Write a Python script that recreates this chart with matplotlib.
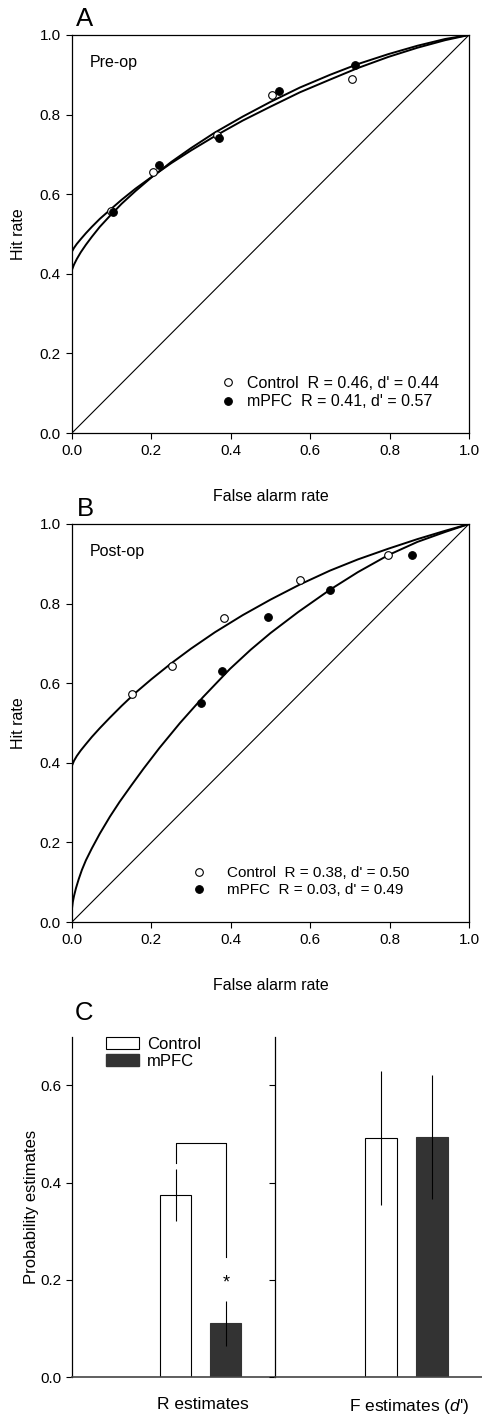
import matplotlib
matplotlib.use("Agg")
import matplotlib.pyplot as plt
from matplotlib.lines import Line2D
from matplotlib.patches import Patch

plt.rcParams['font.family'] = ['Liberation Sans', 'DejaVu Sans']
plt.rcParams['mathtext.fontset'] = 'custom'
plt.rcParams['mathtext.it'] = 'Liberation Sans:italic'
plt.rcParams['mathtext.rm'] = 'Liberation Sans'

# ROC data points (false alarm rate, hit rate)
pre_ctrl_fa = [0.098, 0.203, 0.365, 0.505, 0.706]
pre_ctrl_hit = [0.558, 0.657, 0.748, 0.849, 0.889]
pre_mpfc_fa = [0.104, 0.220, 0.370, 0.521, 0.714]
pre_mpfc_hit = [0.555, 0.674, 0.742, 0.860, 0.924]

post_ctrl_fa = [0.151, 0.251, 0.382, 0.574, 0.797]
post_ctrl_hit = [0.573, 0.643, 0.763, 0.859, 0.921]
post_mpfc_fa = [0.325, 0.377, 0.493, 0.650, 0.856]
post_mpfc_hit = [0.551, 0.631, 0.767, 0.835, 0.922]

# fitted ROC curves
curve_fa = [0, 0.005, 0.012, 0.022, 0.035, 0.05, 0.07, 0.095, 0.125, 0.16, 0.2, 0.25,
            0.3, 0.36, 0.43, 0.5, 0.574, 0.65, 0.72, 0.797, 0.87, 0.94, 1.0]
pre_ctrl_curve = [0.456, 0.465, 0.475, 0.487, 0.502, 0.518, 0.538, 0.560, 0.586, 0.614, 0.643, 0.678,
                  0.710, 0.746, 0.785, 0.820, 0.856, 0.888, 0.917, 0.945, 0.968, 0.987, 1.0]
pre_mpfc_curve = [0.410, 0.423, 0.437, 0.454, 0.473, 0.493, 0.518, 0.545, 0.576, 0.608, 0.642, 0.681,
                  0.716, 0.755, 0.795, 0.832, 0.868, 0.900, 0.927, 0.952, 0.973, 0.990, 1.0]
post_ctrl_curve = [0.393, 0.405, 0.417, 0.431, 0.447, 0.465, 0.487, 0.513, 0.543, 0.576, 0.610, 0.650,
                   0.687, 0.728, 0.771, 0.810, 0.848, 0.883, 0.911, 0.938, 0.962, 0.983, 1.0]

post_mpfc_curve_x = [0, 0.002, 0.005, 0.01, 0.017, 0.025, 0.035, 0.05, 0.07, 0.0957, 0.12, 0.15, 0.18,
                     0.22, 0.272, 0.33, 0.398, 0.45, 0.5, 0.57, 0.65, 0.72, 0.797, 0.87, 0.94, 1.0]
post_mpfc_curve_y = [0.034, 0.05, 0.065, 0.085, 0.108, 0.131, 0.155, 0.185, 0.222, 0.265, 0.302, 0.344, 0.385,
                     0.437, 0.50, 0.565, 0.636, 0.684, 0.726, 0.779, 0.835, 0.879, 0.922, 0.955, 0.98, 1.0]

pre_labels = ["Control  R = 0.46, d' = 0.44", "mPFC  R = 0.41, d' = 0.57"]
post_labels = ["Control  R = 0.38, d' = 0.50", "mPFC  R = 0.03, d' = 0.49"]

# bar chart data
bar_groups = ['R estimates', "F estimates ($\\mathit{d}$')"]
ctrl_means = [0.375, 0.492]
ctrl_err = [0.054, 0.137]
mpfc_means = [0.111, 0.494]
mpfc_err = [0.046, 0.128]

W, H = 482, 1414
fig = plt.figure(figsize=(W / 100, H / 100), dpi=100)


def ax_rect(x0, y0, x1, y1):
    return [x0 / W, 1 - y1 / H, (x1 - x0) / W, (y1 - y0) / H]


def roc_panel(rect, cfa, chit, mfa, mhit, ccx, ccy, mcx, mcy, title, labels, leg_anchor, textpad, legsize):
    ax = fig.add_axes(rect)
    ax.plot([0, 1], [0, 1], color='k', lw=0.8)
    ax.plot(ccx, ccy, color='k', lw=1.4)
    ax.plot(mcx, mcy, color='k', lw=1.4)
    ax.plot(cfa, chit, 'o', mfc='white', mec='k', mew=0.8, ms=5.5, zorder=3)
    ax.plot(mfa, mhit, 'o', mfc='k', mec='k', mew=0.8, ms=5.5, zorder=4)
    ax.set_xlim(0, 1)
    ax.set_ylim(0, 1)
    ticks = [0, 0.2, 0.4, 0.6, 0.8, 1.0]
    ax.set_xticks(ticks)
    ax.set_yticks(ticks)
    ax.set_xticklabels(['%.1f' % t for t in ticks], fontsize=11)
    ax.set_yticklabels(['%.1f' % t for t in ticks], fontsize=11)
    ax.tick_params(direction='out', length=4, width=0.8, pad=4)
    for s in ax.spines.values():
        s.set_linewidth(0.9)
    ax.set_xlabel('False alarm rate', fontsize=11.5, labelpad=22)
    ax.set_ylabel('Hit rate', fontsize=11.5, labelpad=10)
    ax.text(0.045, 0.93, title, fontsize=11.5, transform=ax.transAxes, va='center')
    handles = [Line2D([], [], ls='none', marker='o', mfc='white', mec='k', mew=0.8, ms=5.5),
               Line2D([], [], ls='none', marker='o', mfc='k', mec='k', mew=0.8, ms=5.5)]
    ax.legend(handles, labels, loc='lower left', bbox_to_anchor=leg_anchor, frameon=False,
              fontsize=legsize, handlelength=1.0, handletextpad=textpad, borderpad=0,
              borderaxespad=0, labelspacing=0.2)
    return ax


roc_panel(ax_rect(72, 35, 469, 433), pre_ctrl_fa, pre_ctrl_hit, pre_mpfc_fa, pre_mpfc_hit,
          curve_fa, pre_ctrl_curve, curve_fa, pre_mpfc_curve,
          'Pre-op', pre_labels, (0.372, 0.06), 0.7, 11.5)
roc_panel(ax_rect(72, 524, 469, 922), post_ctrl_fa, post_ctrl_hit, post_mpfc_fa, post_mpfc_hit,
          curve_fa, post_ctrl_curve, post_mpfc_curve_x, post_mpfc_curve_y,
          'Post-op', post_labels, (0.301, 0.063), 1.35, 11)

# panel C: two side-by-side axes sharing the y range
axl = fig.add_axes(ax_rect(72, 1036.7, 275.3, 1377.3))
axr = fig.add_axes(ax_rect(275.3, 1036.7, 482, 1377.3), sharey=axl)
pos_ctrl, pos_mpfc, bw = 0.51, 0.757, 0.153
for i, ax in enumerate([axl, axr]):
    ax.bar(pos_ctrl, ctrl_means[i], bw, color='white', edgecolor='k', lw=0.8, zorder=2)
    ax.bar(pos_mpfc, mpfc_means[i], bw, color='#333333', edgecolor='#333333', lw=0.8, zorder=2)
    ax.errorbar([pos_ctrl, pos_mpfc], [ctrl_means[i], mpfc_means[i]], yerr=[ctrl_err[i], mpfc_err[i]],
                fmt='none', ecolor='k', elinewidth=0.8, capsize=0, zorder=3)
    ax.set_xlim(0, 1)
    ax.set_ylim(0, 0.7)
    ax.spines['top'].set_visible(False)
    ax.spines['right'].set_visible(False)
    ax.spines['left'].set_linewidth(0.9)
    ax.spines['bottom'].set_linewidth(1.2)
    ax.spines['bottom'].set_color('#444444')
    ax.set_xticks([0.645])
    ax.set_xticklabels([bar_groups[i]], fontsize=12.5)
    ax.tick_params(axis='x', length=0, pad=14)
    ax.tick_params(axis='y', direction='out', length=4, width=0.8)
    ax.set_yticks([0, 0.2, 0.4, 0.6])
    ax.patch.set_alpha(0)

axl.set_yticklabels(['0.0', '0.2', '0.4', '0.6'], fontsize=11)
axr.tick_params(axis='y', labelleft=False)
axl.set_ylabel('Probability estimates', fontsize=12, labelpad=1)

# significance bracket
axl.plot([pos_ctrl, pos_ctrl, pos_mpfc, pos_mpfc], [0.441, 0.482, 0.482, 0.248], color='k', lw=0.8)
axl.text(pos_mpfc, 0.193, '*', ha='center', va='center', fontsize=13)

axl.legend([Patch(facecolor='white', edgecolor='k', lw=0.8), Patch(facecolor='#333333', edgecolor='#333333')],
           ['Control', 'mPFC'], loc='upper left', bbox_to_anchor=(0.165, 1.0), frameon=False,
           fontsize=12, handlelength=2.0, handleheight=0.7, handletextpad=0.5, borderpad=0,
           borderaxespad=0, labelspacing=0.12)

fig.text(76 / W, 1 - 26 / H, 'A', fontsize=18.5, va='baseline')
fig.text(77 / W, 1 - 516 / H, 'B', fontsize=18.5, va='baseline')
fig.text(75 / W, 1 - 1020 / H, 'C', fontsize=18.5, va='baseline')

fig.savefig('out.png', dpi=100)
